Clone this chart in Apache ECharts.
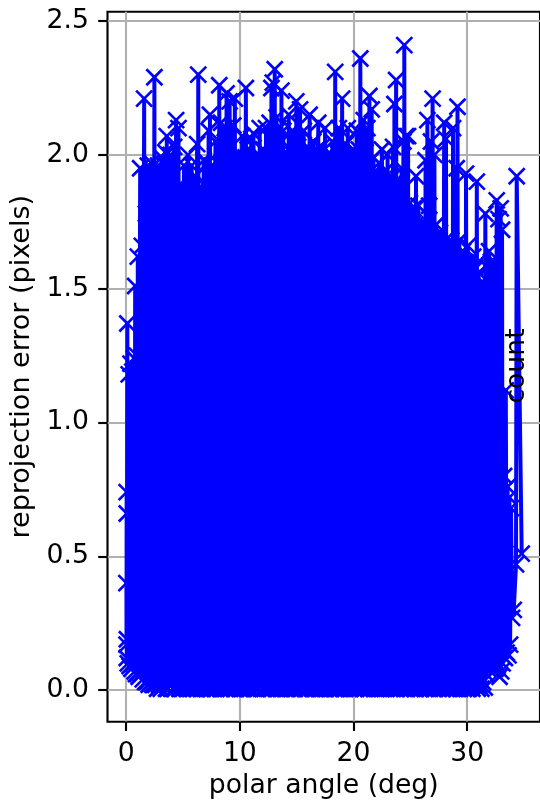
<!DOCTYPE html>
<html><head><meta charset="utf-8">
<script src="https://cdn.jsdelivr.net/npm/echarts@6/dist/echarts.min.js"></script>
<style>html,body{margin:0;padding:0;background:#fff}#c{width:540px;height:805px}</style></head>
<body><div id="c"></div>
<script>
const xTicks=[0,10,20,30];
const yTicks=[0,0.5,1,1.5,2,2.5];
const polarAngle=[
.02,.03,.04,.05,.05,.06,.10,.14,.22,.30,.38,.46,
.54,.62,.70,.74,.79,.86,.94,.98,1.02,1.10,1.23,1.30,
1.38,1.46,1.58,1.66,1.74,1.82,1.90,1.98,2.06,2.14,2.22,2.30,
2.38,2.42,2.48,2.56,2.64,2.72,2.80,2.88,2.96,3.04,3.12,3.20,
3.28,3.36,3.44,3.50,3.57,3.65,3.74,3.82,3.90,3.98,4.06,4.14,
4.22,4.30,4.39,4.47,4.60,4.68,4.76,4.84,4.92,5.00,5.08,5.16,
5.24,5.32,5.44,5.52,5.60,5.68,5.76,5.84,5.92,6.00,6.08,6.16,
6.24,6.28,6.34,6.42,6.50,6.58,6.66,6.74,6.82,6.90,6.98,7.06,
7.14,7.20,7.25,7.31,7.37,7.45,7.53,7.61,7.69,7.77,7.85,7.93,
8.01,8.09,8.19,8.27,8.35,8.43,8.51,8.59,8.67,8.75,8.83,8.91,
8.99,9.04,9.10,9.18,9.26,9.34,9.42,9.48,9.56,9.64,9.72,9.80,
9.88,9.96,10.04,10.12,10.20,10.28,10.36,10.44,10.53,10.61,10.69,10.77,
10.85,10.93,11.01,11.09,11.20,11.28,11.36,11.44,11.52,11.60,11.75,11.83,
11.91,11.99,12.07,12.15,12.30,12.38,12.46,12.54,12.62,12.70,12.78,12.84,
12.90,12.98,13.07,13.15,13.23,13.31,13.39,13.47,13.55,13.60,13.66,13.74,
13.82,13.90,13.98,14.06,14.14,14.22,14.30,14.38,14.46,14.54,14.62,14.70,
14.78,14.86,14.97,15.05,15.13,15.21,15.30,15.38,15.46,15.54,15.62,15.70,
15.78,15.86,15.94,16.02,16.14,16.22,16.30,16.38,16.46,16.54,16.62,16.70,
16.78,16.84,16.90,16.98,17.06,17.14,17.22,17.30,17.38,17.44,17.50,17.58,
17.66,17.74,17.82,17.90,17.98,18.06,18.14,18.22,18.30,18.34,18.39,18.47,
18.55,18.63,18.71,18.79,18.87,18.93,19.00,19.08,19.16,19.24,19.32,19.40,
19.50,19.58,19.66,19.74,19.82,19.90,19.98,20.06,20.14,20.22,20.30,20.38,
20.46,20.54,20.60,20.68,20.76,20.84,20.90,20.98,21.06,21.14,21.22,21.30,
21.40,21.48,21.60,21.68,21.76,21.84,21.92,22.00,22.08,22.16,22.24,22.32,
22.40,22.45,22.50,22.58,22.66,22.74,22.82,22.90,23.00,23.08,23.16,23.24,
23.32,23.40,23.48,23.54,23.60,23.68,23.75,23.83,23.91,23.99,24.07,24.15,
24.23,24.31,24.39,24.44,24.47,24.53,24.62,24.72,24.80,24.88,24.96,25.04,
25.12,25.20,25.28,25.36,25.44,25.47,25.50,25.58,25.70,25.78,25.86,25.94,
26.02,26.10,26.18,26.26,26.34,26.42,26.50,26.58,26.66,26.74,26.82,26.90,
26.96,27.04,27.12,27.20,27.28,27.36,27.44,27.52,27.60,27.68,27.76,27.84,
27.98,28.06,28.14,28.22,28.30,28.38,28.46,28.54,28.60,28.68,28.76,28.84,
28.92,29.00,29.08,29.12,29.15,29.23,29.31,29.39,29.47,29.55,29.63,29.71,
29.80,29.85,29.90,29.98,30.06,30.14,30.22,30.30,30.38,30.46,30.54,30.62,
30.70,30.78,30.85,30.93,31.01,31.09,31.17,31.25,31.33,31.41,31.49,31.55,
31.60,31.68,31.76,31.84,31.93,32.01,32.09,32.17,32.25,32.33,32.41,32.49,
32.60,32.68,32.76,32.85,32.95,33.00,33.07,33.12,33.25,33.32,33.40,33.47,
33.56,33.64,33.72,33.78,33.86,33.95,34.10,34.30,34.36,34.80];
const reprojError=[
.40,.17,.74,.12,.66,.19,1.37,.10,1.18,.09,1.22,.08,
1.19,.10,1.24,.07,1.51,.06,1.25,.06,1.62,.05,1.95,.06,
1.66,.04,2.21,.03,1.78,.03,1.96,.02,1.82,.03,1.97,.02,
1.85,.02,2.29,.02,1.84,.005,1.96,.02,1.82,.005,1.99,.02,
1.88,.02,2.01,.005,2.07,.005,1.86,.02,2.00,.02,1.87,.005,
2.03,.005,2.13,.02,2.10,.005,1.89,.02,1.83,.005,1.96,.02,
1.85,.005,2.00,.02,1.82,.005,1.96,.005,1.84,.02,1.92,.005,
2.04,.005,2.30,.02,1.88,.005,1.83,.005,1.98,.02,1.89,.005,
1.97,.005,2.09,.005,2.15,.005,1.96,.02,1.90,.005,2.05,.005,
1.97,.02,2.26,.005,2.12,.005,2.02,.02,2.10,.005,2.23,.005,
2.08,.02,2.20,.005,1.99,.02,2.11,.005,2.21,.005,2.00,.02,
1.96,.005,2.00,.005,2.07,.005,1.97,.02,2.25,.005,2.02,.005,
1.98,.005,2.06,.02,2.08,.005,1.96,.005,2.00,.005,2.10,.02,
1.99,.005,2.02,.005,2.10,.005,1.99,.02,2.12,.005,2.25,.005,
2.27,.02,2.32,.005,2.14,.005,2.10,.02,2.05,.005,2.24,.005,
2.09,.02,2.01,.005,2.00,.005,2.15,.02,2.02,.005,2.09,.005,
1.99,.005,2.20,.02,2.03,.005,2.17,.005,2.00,.02,2.09,.005,
1.98,.005,2.03,.005,2.15,.02,2.00,.005,2.05,.005,1.98,.005,
2.02,.02,2.12,.005,1.99,.005,2.03,.02,1.97,.005,2.10,.005,
2.00,.02,1.96,.005,2.00,.005,2.05,.02,1.95,.005,2.31,.005,
2.01,.005,2.10,.005,1.98,.02,2.21,.005,1.99,.005,2.04,.02,
2.10,.005,2.00,.005,1.96,.02,2.02,.005,1.98,.005,2.09,.02,
2.02,.005,2.36,.02,2.06,.005,2.13,.005,2.01,.02,2.10,.005,
2.22,.005,2.17,.02,1.99,.005,1.94,.005,1.92,.02,1.97,.005,
1.90,.005,2.02,.02,1.89,.005,1.94,.005,2.00,.02,1.88,.005,
1.92,.005,2.03,.02,2.19,.005,2.28,.005,1.91,.02,1.89,.005,
1.95,.02,2.05,.005,2.41,.02,2.07,.005,2.07,.02,1.82,.005,
1.76,.02,1.80,.005,1.74,.005,1.92,.02,1.81,.005,1.72,.005,
1.75,.02,1.70,.005,1.98,.005,2.13,.02,1.81,.005,2.05,.02,
2.21,.005,2.00,.005,1.74,.02,1.68,.005,1.71,.02,1.66,.005,
2.12,.02,2.06,.005,1.69,.005,1.64,.02,1.68,.005,2.10,.02,
1.66,.005,1.95,.005,2.18,.02,1.68,.005,1.62,.02,1.64,.005,
1.60,.02,1.93,.005,1.66,.005,1.60,.02,1.56,.005,1.62,.02,
1.58,.02,1.90,.005,1.56,.02,1.52,.005,1.48,.03,1.52,.01,
1.78,.06,1.58,.08,1.64,.09,1.60,.11,1.58,.10,1.60,.08,
1.83,.09,1.76,.05,1.80,.07,1.72,.10,.80,.12,1.12,.14,
.76,.13,.72,.17,.68,.27,.30,.47,1.92,.51];
const chart=echarts.init(document.getElementById('c'),null,{renderer:'canvas'});
const font='DejaVu Sans';
chart.setOption({
 animation:false,
 backgroundColor:'#fff',
 grid:{left:107.5,right:0,top:11.7,bottom:83.3,outerBoundsMode:'none',show:true,borderColor:'#000',borderWidth:2.13,backgroundColor:'transparent'},
 xAxis:{type:'value',min:-1.645,max:36.41,name:'polar angle (deg)',nameLocation:'middle',nameGap:47,
  nameTextStyle:{fontFamily:font,fontSize:26.67,color:'#000'},
  axisLine:{show:false,onZero:false},
  axisTick:{show:true,length:9.3,lineStyle:{color:'#000',width:2.13},customValues:xTicks},
  axisLabel:{show:true,margin:18.6,fontFamily:font,fontSize:26.67,color:'#000',customValues:xTicks,formatter:v=>String(v)},
  splitLine:{show:true,lineStyle:{color:'#b0b0b0',width:2.13}}},
 yAxis:{type:'value',min:-0.118,max:2.535,name:'reprojection error (pixels)',nameLocation:'middle',nameGap:71,
  nameTextStyle:{fontFamily:font,fontSize:27,color:'#000'},
  axisLine:{show:false,onZero:false},
  axisTick:{show:true,length:9.3,lineStyle:{color:'#000',width:2.13},customValues:yTicks},
  axisLabel:{show:true,margin:18.6,fontFamily:font,fontSize:26.67,color:'#000',customValues:yTicks,formatter:v=>v.toFixed(1)},
  splitLine:{show:true,lineStyle:{color:'#b0b0b0',width:2.13}}},
 series:[{type:'line',data:polarAngle.map((x,i)=>[x,reprojError[i]]),
  showSymbol:true,showAllSymbol:true,symbol:'path://M0 0L10 10M10 0L0 10',symbolSize:16,
  lineStyle:{color:'#0000ff',width:4,join:'round'},
  itemStyle:{color:'none',borderColor:'#0000ff',borderWidth:2.67},
  emphasis:{disabled:true},silent:true,clip:false}],
 graphic:[{type:'text',x:517,y:366,rotation:Math.PI/2,z:100,silent:true,
  style:{text:'count',fontFamily:font,fontSize:26.67,fill:'#000',textAlign:'center',textVerticalAlign:'middle'}}]
});
</script></body></html>
